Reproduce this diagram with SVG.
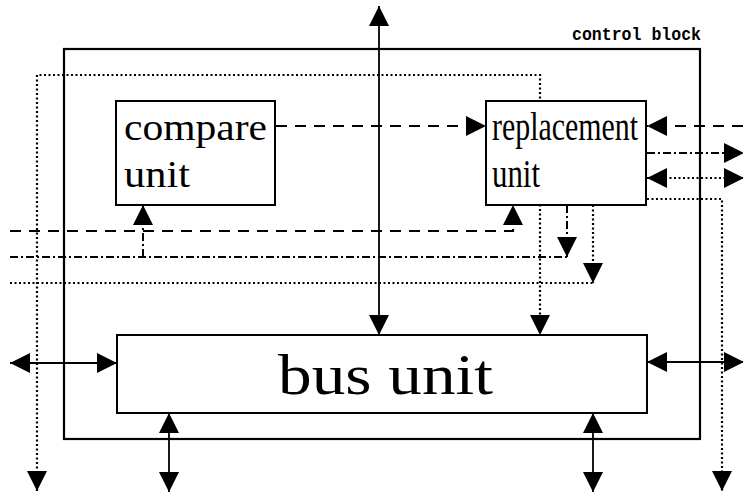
<svg xmlns="http://www.w3.org/2000/svg" width="743" height="493" viewBox="0 0 743 493">
<style>
.box{fill:#fff;stroke:#000;stroke-width:2}
.frame{fill:none;stroke:#000;stroke-width:2.2}
.c{fill:none;stroke:#000}
.solid{stroke-width:1.8}
.dash{stroke-width:2.2;stroke-dasharray:11 8}
.dd{stroke-width:2;stroke-dasharray:8 3 2 3}
.dot{stroke-width:2.2;stroke-dasharray:2 2.5}
.t{font-family:"Liberation Serif","Times New Roman",serif;fill:#000}
.lbl{font-family:"Liberation Mono","Courier New",monospace;font-weight:bold;font-size:19px;fill:#000}
</style>
<defs>
<marker id="ah" viewBox="0 0 20 20" refX="20" refY="10" markerWidth="20" markerHeight="20" markerUnits="userSpaceOnUse" orient="auto-start-reverse">
<path d="M0,0 L20,10 L0,20 z" fill="#000" stroke="none"/>
</marker>
</defs>
<rect class="frame" x="64" y="49" width="636" height="390"/>
<text class="lbl" x="572" y="40" textLength="129" lengthAdjust="spacingAndGlyphs">control block</text>
<g id="connectors">
<path class="c solid" d="M379,335 V6" marker-start="url(#ah)" marker-end="url(#ah)"/>
<path class="c solid" d="M117,363 H10" marker-start="url(#ah)" marker-end="url(#ah)"/>
<path class="c solid" d="M647,362 H744" marker-start="url(#ah)" marker-end="url(#ah)"/>
<path class="c solid" d="M169,413 V492" marker-start="url(#ah)" marker-end="url(#ah)"/>
<path class="c solid" d="M593,413 V492" marker-start="url(#ah)" marker-end="url(#ah)"/>
<path class="c dash" d="M276,126 H486" marker-end="url(#ah)"/>
<path class="c dash" d="M743,126 H647" marker-end="url(#ah)"/>
<path class="c dash" d="M10,231 H513 V205" marker-end="url(#ah)"/>
<path class="c dd" d="M10,257 H567"/>
<path class="c dd" d="M567,205 V257" marker-end="url(#ah)"/>
<path class="c dd" d="M143,257 V205" marker-end="url(#ah)"/>
<path class="c dd" d="M647,153 H744" marker-end="url(#ah)"/>
<path class="c dot" d="M37,491 V75 H540 V335" marker-start="url(#ah)" marker-end="url(#ah)"/>
<path class="c dot" d="M10,283 H593"/>
<path class="c dot" d="M593,205 V283" marker-end="url(#ah)"/>
<path class="c dot" d="M647,178 H744" marker-start="url(#ah)" marker-end="url(#ah)"/>
<path class="c dot" d="M647,199 H722 V491" marker-end="url(#ah)"/>
</g>
<g id="compare-unit">
<rect class="box" x="116" y="101" width="159" height="104"/>
<text class="t" x="124" y="140" font-size="37" textLength="143" lengthAdjust="spacingAndGlyphs">compare</text>
<text class="t" x="124" y="187" font-size="37" textLength="66" lengthAdjust="spacingAndGlyphs">unit</text>
</g>
<g id="replacement-unit">
<rect class="box" x="486" y="101" width="160" height="104"/>
<text class="t" x="492" y="140" font-size="40" textLength="146" lengthAdjust="spacingAndGlyphs">replacement</text>
<text class="t" x="492" y="187" font-size="40" textLength="48" lengthAdjust="spacingAndGlyphs">unit</text>
</g>
<g id="bus-unit">
<rect class="box" x="117" y="335" width="530" height="78"/>
<text class="t" x="278" y="394" font-size="56" textLength="215" lengthAdjust="spacingAndGlyphs">bus unit</text>
</g>
</svg>
